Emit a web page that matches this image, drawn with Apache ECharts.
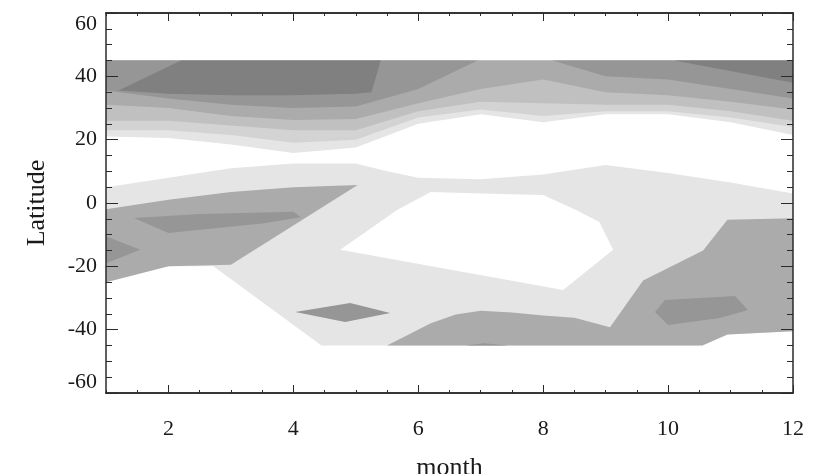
<!DOCTYPE html>
<html>
<head>
<meta charset="utf-8">
<script src="https://cdn.jsdelivr.net/npm/echarts@6/dist/echarts.min.js"></script>
<style>
  html, body { margin: 0; padding: 0; background: #fff; }
  #chart { width: 814px; height: 474px; }
</style>
</head>
<body>
<div id="chart"></div>
<script>
// month columns of the contour grid
const months = [1, 2, 3, 4, 5, 6, 7, 8, 9, 10, 11, 12];
const evenMonths = [2, 4, 6, 8, 10, 12];

// northern band: latitude where each shade level ends, per month
const northEdge1 = [21, 20.5, 18.5, 15.8, 17.5, 25, 28, 25.5, 28, 28, 25.5, 21.5];
const northEdge2 = [23, 23, 21.5, 19, 20, 27, 29.5, 27.5, 29, 29, 27, 24];
const northEdge3 = [26, 26, 24.5, 23, 23, 29, 32, 31.5, 31, 31, 29, 26];
const northEdge4 = [31, 30, 27.5, 26.2, 26.5, 31.5, 36, 39, 35, 34, 32, 29.5];

// darker northern patches, [month, latitude]
const north5West = [[1, 45], [6.95, 45], [6, 36], [5, 30.5], [4, 30], [3, 31], [2, 33], [1, 35.5]];
const north5East = [[8.15, 45], [12, 45], [12, 33], [11, 36], [10, 39], [9, 40]];
const north6West = [[2.2, 45], [5.4, 45], [5.25, 35], [5, 34.5], [4, 34], [3, 34], [2, 34.5], [1.2, 35.5]];
const north6East = [[10.1, 45], [12, 45], [12, 38]];

// southern regions, [month, latitude]
const southLight = [[1, 5], [2, 8], [3, 11], [4, 12.5], [5, 12.5], [5.5, 10], [6, 8], [7, 7.5], [8, 9],
  [9, 12], [10, 9.5], [11, 6.5], [12, 3], [12, -40.5], [10.95, -41.5], [10.55, -45], [4.45, -45],
  [2.72, -20], [2, -20], [1, -25]];
const southHole = [[4.75, -14.8], [5.66, -2.2], [6.2, 3.5], [7, 3], [8, 2.5], [8.5, -2], [8.9, -6],
  [9.12, -14.8], [8.32, -27.5]];
const southDarkWest = [[1, -2], [2, 1], [3, 3.5], [4, 5], [5.03, 5.7], [3, -19.5], [2, -20], [1, -25]];
const southDarkEast = [[5.5, -45], [5.8, -42], [6.2, -38], [6.6, -35.2], [7, -34], [7.5, -34.6], [8, -35.5],
  [8.5, -36.2], [9.07, -39.2], [9.6, -24.5], [10.56, -15], [10.95, -5.3], [12, -4.8], [12, -40.5],
  [10.95, -41.5], [10.55, -45]];
const patchA = [[1.45, -4.7], [2.5, -3.5], [4.0, -2.8], [4.12, -4.5], [3.5, -6.5], [2, -9.5]];
const patchB = [[1, -10.5], [1.55, -14.8], [1, -19]];
const patchC = [[4.03, -34.4], [4.91, -31.6], [5.55, -34.7], [4.83, -37.6]];
const patchD = [[9.79, -34.4], [9.95, -30.6], [11.07, -29.4], [11.28, -33.8], [10.83, -36.3], [10.0, -38.5]];
const patchE = [[6.75, -45], [7.05, -44.3], [7.45, -45]];

const shades = ['#ffffff', '#e5e5e5', '#d3d3d3', '#c0c0c0', '#ababab', '#969696', '#808080'];

// band from lat 45 down to an edge line
function northBand(edge) {
  var pts = [[1, 45], [12, 45]];
  for (var i = months.length - 1; i >= 0; i--) pts.push([months[i], edge[i]]);
  return pts;
}

// painter's order: lighter first
const regions = [
  { pts: northBand(northEdge1), level: 1 },
  { pts: northBand(northEdge2), level: 2 },
  { pts: northBand(northEdge3), level: 3 },
  { pts: northBand(northEdge4), level: 4 },
  { pts: north5West, level: 5 },
  { pts: north5East, level: 5 },
  { pts: north6West, level: 6 },
  { pts: north6East, level: 6 },
  { pts: southLight, level: 1 },
  { pts: southHole, level: 0 },
  { pts: southDarkWest, level: 4 },
  { pts: southDarkEast, level: 4 },
  { pts: patchA, level: 5 },
  { pts: patchB, level: 5 },
  { pts: patchC, level: 5 },
  { pts: patchD, level: 5 },
  { pts: patchE, level: 5 }
];

var chart = echarts.init(document.getElementById('chart'), null, { width: 814, height: 474 });

const font = 'Liberation Serif';
const lineCol = '#2a2a2a';

function xAx(pos, major, showLabel) {
  var ax = {
    type: 'value', position: pos, min: 1, max: 12, z: 5,
    axisLine: { show: true, onZero: false, lineStyle: { color: lineCol, width: 1.5 } },
    splitLine: { show: false },
    axisTick: { show: true, inside: true, length: 3, lineStyle: { color: lineCol } },
    axisLabel: { show: false }
  };
  if (major) {
    ax.axisTick = { show: true, inside: true, length: 8, customValues: evenMonths, lineStyle: { color: lineCol } };
    ax.axisLabel = { show: showLabel, customValues: evenMonths, fontFamily: font, fontSize: 22, color: '#1a1a1a', margin: 25 };
  } else {
    ax.interval = 0.5;
  }
  return ax;
}

function yAx(pos, showLabel) {
  return {
    type: 'value', position: pos, min: -60, max: 60, interval: 20, z: 5,
    axisLine: { show: true, onZero: false, lineStyle: { color: lineCol, width: 1.5 } },
    splitLine: { show: false },
    axisTick: { show: true, inside: true, length: 12, lineStyle: { color: lineCol } },
    minorTick: { show: true, splitNumber: 4, length: 6, lineStyle: { color: lineCol } },
    minorSplitLine: { show: false },
    axisLabel: {
      show: showLabel, fontFamily: font, fontSize: 22, color: '#1a1a1a', margin: 9,
      verticalAlignMaxLabel: 'top', verticalAlignMinLabel: 'bottom'
    }
  };
}

var bottomMajor = xAx('bottom', true, true);
bottomMajor.name = 'month';
bottomMajor.nameLocation = 'middle';
bottomMajor.nameGap = 62;
bottomMajor.nameTextStyle = { fontFamily: font, fontSize: 26, color: '#1a1a1a' };

var leftAxis = yAx('left', true);
leftAxis.name = 'Latitude';
leftAxis.nameLocation = 'middle';
leftAxis.nameGap = 56;
leftAxis.nameTextStyle = { fontFamily: font, fontSize: 26, color: '#1a1a1a' };

option = {
  backgroundColor: '#ffffff',
  animation: false,
  grid: { left: 106, right: 21, top: 13, bottom: 81, containLabel: false, outerBoundsMode: 'none' },
  xAxis: [xAx('bottom', false, false), bottomMajor, xAx('top', false, false), xAx('top', true, false)],
  yAxis: [leftAxis, yAx('right', false)],
  series: [{
    type: 'custom',
    coordinateSystem: 'cartesian2d',
    xAxisIndex: 0,
    yAxisIndex: 0,
    clip: true,
    silent: true,
    z: 1,
    renderItem: function(params, api) {
      var r = regions[params.dataIndex];
      return {
        type: 'polygon',
        shape: { points: r.pts.map(function(p) { return api.coord(p); }) },
        style: { fill: shades[r.level] }
      };
    },
    data: regions.map(function(r) { return r.pts[0]; })
  }]
};

chart.setOption(option);
</script>
</body>
</html>
